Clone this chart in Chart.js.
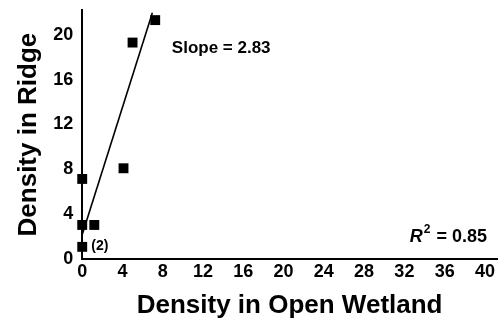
<!DOCTYPE html>
<html>
<head>
<meta charset="utf-8">
<script src="https://cdn.jsdelivr.net/npm/chart.js@4"></script>
<style>
  html, body { margin: 0; padding: 0; background: #fff; }
  #wrap { width: 504px; height: 324px; }
</style>
</head>
<body>
<div id="wrap"><canvas id="c" width="504" height="324"></canvas></div>
<script>
// observed densities (open wetland vs ridge)
const openWetland = [0, 0, 0, 1.2, 4.1, 5.0, 7.25];
const ridge = [1.1, 3.05, 7.15, 3.05, 8.1, 19.3, 21.3];

// fitted line endpoints
const fitX = [0, 6.97];
const fitY = [2.2, 21.95];

const xTicks = [0, 4, 8, 12, 16, 20, 24, 28, 32, 36, 40];
const yTicks = [0, 4, 8, 12, 16, 20];

const FONT = '"Liberation Sans", Arial, sans-serif';

// text notes on the plot: [label, x, y, size]
const notes = [
    ['Slope = 2.83', 8.9, 18.8, 17],
    ['(2)', 0.9, 1.2, 14]
];

const notesPlugin = {
    id: 'notes',
    afterDatasetsDraw(chart) {
        const ctx = chart.ctx;
        const xs = chart.scales.x;
        const ys = chart.scales.y;
        ctx.save();
        ctx.fillStyle = '#000';
        ctx.textBaseline = 'middle';
        ctx.textAlign = 'left';
        notes.forEach(([text, x, y, size]) => {
            ctx.font = 'bold ' + size + 'px ' + FONT;
            ctx.fillText(text, xs.getPixelForValue(x), ys.getPixelForValue(y));
        });

        // R² = 0.85, right aligned near x = 40
        const rx = xs.getPixelForValue(40.2);
        const ry = ys.getPixelForValue(2.0);
        ctx.font = 'bold 18px ' + FONT;
        const rest = ' = 0.85';
        const restW = ctx.measureText(rest).width;
        ctx.font = 'italic bold 18px ' + FONT;
        const rW = ctx.measureText('R').width;
        ctx.font = 'bold 12px ' + FONT;
        const supW = ctx.measureText('2').width;
        let px = rx - restW - supW - rW - 2;
        ctx.font = 'italic bold 18px ' + FONT;
        ctx.fillText('R', px, ry);
        px += rW + 1;
        ctx.font = 'bold 12px ' + FONT;
        ctx.fillText('2', px, ry - 7);
        px += supW + 1;
        ctx.font = 'bold 18px ' + FONT;
        ctx.fillText(rest, px, ry);
        ctx.restore();
    }
};

new Chart(document.getElementById('c'), {
    type: 'scatter',
    data: {
        datasets: [{
            data: openWetland.map((x, i) => ({ x: x, y: ridge[i] })),
            pointStyle: 'rect',
            pointRadius: 7,
            backgroundColor: '#000',
            borderColor: '#000',
            borderWidth: 0,
            clip: false
        }, {
            type: 'line',
            data: fitX.map((x, i) => ({ x: x, y: fitY[i] })),
            borderColor: '#000',
            borderWidth: 1.6,
            pointRadius: 0,
            fill: false,
            clip: false
        }]
    },
    options: {
        responsive: false,
        animation: false,
        layout: { padding: { top: 10, right: 1, left: 13, bottom: 3 } },
        plugins: { legend: { display: false }, tooltip: { enabled: false } },
        scales: {
            x: {
                type: 'linear',
                min: 0,
                max: 41.2,
                afterBuildTicks: scale => { scale.ticks = xTicks.map(v => ({ value: v })); },
                grid: { display: false, drawTicks: false },
                border: { display: true, color: '#000', width: 2 },
                ticks: { color: '#000', padding: 2, maxRotation: 0, autoSkip: false,
                    font: { family: FONT, size: 18, weight: 'bold' } },
                title: { display: true, text: 'Density in Open Wetland', color: '#000',
                    padding: { top: 5, bottom: 0 },
                    font: { family: FONT, size: 26, weight: 'bold' } }
            },
            y: {
                type: 'linear',
                min: 0,
                max: 22.2,
                afterBuildTicks: scale => { scale.ticks = yTicks.map(v => ({ value: v })); },
                afterFit: scale => { scale.paddingTop = 0; },
                grid: { display: false, drawTicks: false },
                border: { display: true, color: '#000', width: 2 },
                ticks: { color: '#000', padding: 9, autoSkip: false,
                    font: { family: FONT, size: 18, weight: 'bold' } },
                title: { display: true, text: 'Density in Ridge', color: '#000',
                    padding: { top: 0, bottom: 0 },
                    font: { family: FONT, size: 26, weight: 'bold' } }
            }
        }
    },
    plugins: [notesPlugin]
});
</script>
</body>
</html>
